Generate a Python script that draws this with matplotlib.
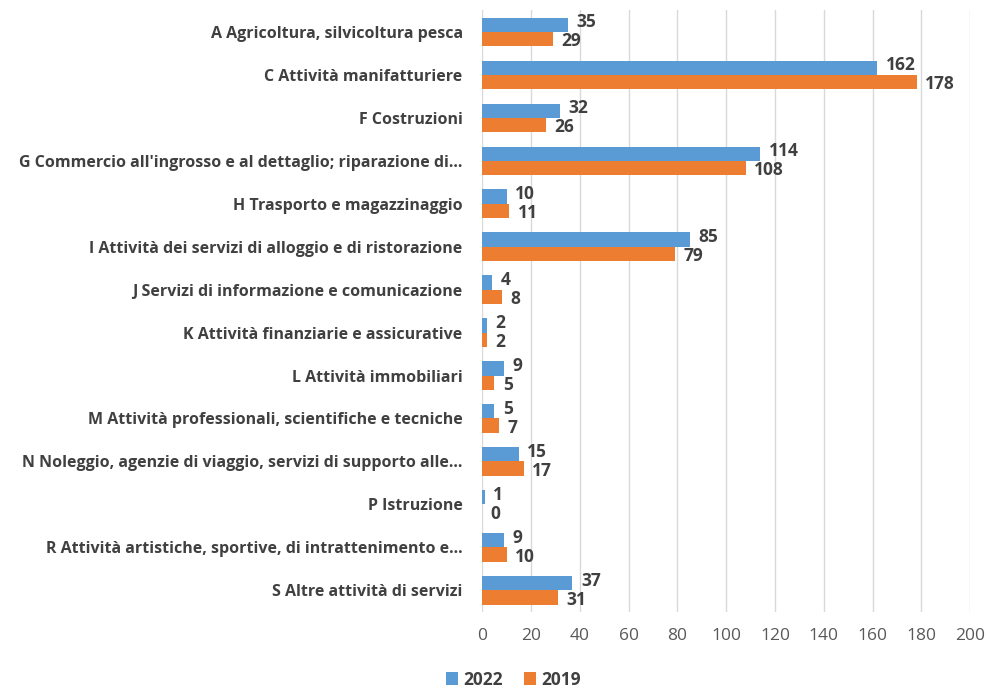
import numpy as np
import matplotlib.pyplot as plt

categories = [
    "A Agricoltura, silvicoltura pesca",
    "C Attività manifatturiere",
    "F Costruzioni",
    "G Commercio all'ingrosso e al dettaglio; riparazione di...",
    "H Trasporto e magazzinaggio",
    "I Attività dei servizi di alloggio e di ristorazione",
    "J Servizi di informazione e comunicazione",
    "K Attività finanziarie e assicurative",
    "L Attività immobiliari",
    "M Attività professionali, scientifiche e tecniche",
    "N Noleggio, agenzie di viaggio, servizi di supporto alle...",
    "P Istruzione",
    "R Attività artistiche, sportive, di intrattenimento e...",
    "S Altre attività di servizi",
]
values_2022 = [35, 162, 32, 114, 10, 85, 4, 2, 9, 5, 15, 1, 9, 37]
values_2019 = [29, 178, 26, 108, 11, 79, 8, 2, 5, 7, 17, 0, 10, 31]

blue = '#5B9BD5'
orange = '#ED7D31'
text_col = '#404040'

plt.rcParams['font.family'] = ['Open Sans', 'DejaVu Sans']

fig = plt.figure(figsize=(9.9, 6.89), dpi=100)
ax = fig.add_axes([0.487, 0.112, 0.493, 0.873])

y = np.arange(len(categories))
h = 0.33
b1 = ax.barh(y - h / 2, values_2022, height=h, color=blue, label='2022', zorder=3)
b2 = ax.barh(y + h / 2, values_2019, height=h, color=orange, label='2019', zorder=3)

for yi, v in zip(y, values_2022):
    ax.text(v + 3.5, yi - h / 2 - 0.06, str(v), va='center', ha='left',
            fontsize=12.5, fontweight='bold', color=text_col)
for yi, v in zip(y, values_2019):
    ax.text(v + 3.5, yi + h / 2 + 0.06, str(v), va='center', ha='left',
            fontsize=12.5, fontweight='bold', color=text_col)

ax.set_xlim(0, 200)
ax.set_xticks(range(0, 201, 20))
ax.set_ylim(len(categories) - 0.5, -0.5)
ax.set_yticks(y)
ax.set_yticklabels(categories, fontsize=11.5, fontweight='bold', color=text_col)
ax.tick_params(axis='x', labelsize=12.5, colors='#595959', length=0, pad=12)
ax.tick_params(axis='y', length=0, pad=14)
ax.grid(axis='x', color='#D9D9D9', linewidth=1, zorder=0)
for s in ax.spines.values():
    s.set_visible(False)

fig.legend(handles=[b1, b2], labels=['2022', '2019'], loc='lower left',
           bbox_to_anchor=(0.435, -0.022), ncol=2, frameon=False,
           prop={'weight': 'bold', 'size': 12.5}, handlelength=0.7,
           handleheight=0.7, handletextpad=0.3, columnspacing=1.2,
           labelcolor=text_col)

fig.savefig('out.png', dpi=100)
